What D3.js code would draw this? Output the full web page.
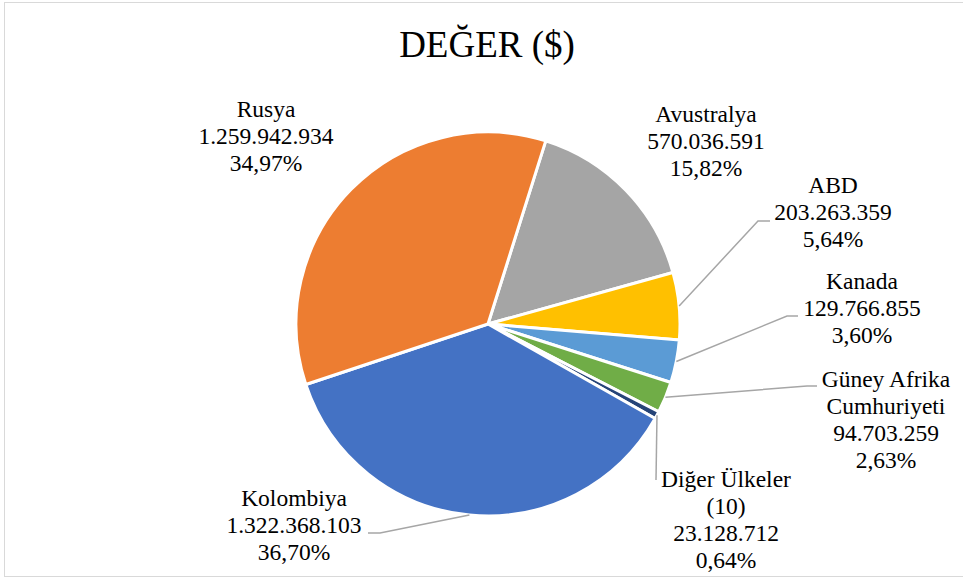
<!DOCTYPE html>
<html>
<head>
<meta charset="utf-8">
<script src="https://cdn.jsdelivr.net/npm/d3@7"></script>
<style>
  html, body { margin: 0; padding: 0; background: #fff; }
</style>
</head>
<body>
<div id="vis"></div>
<script>
// data, clockwise from the slice after Rusya
var countries = ["Avustralya", "ABD", "Kanada", "Güney Afrika Cumhuriyeti", "Diğer Ülkeler (10)", "Kolombiya", "Rusya"];
var values = [570036591, 203263359, 129766855, 94703259, 23128712, 1322368103, 1259942934];
var nameLines = [["Avustralya"], ["ABD"], ["Kanada"], ["Güney Afrika", "Cumhuriyeti"], ["Diğer Ülkeler", "(10)"], ["Kolombiya"], ["Rusya"]];
var colors = ["#A5A5A5", "#FFC000", "#5B9BD5", "#70AD47", "#264478", "#4472C4", "#ED7D31"];
var title = "DEĞER ($)";

// label layout: centre x, first baseline, leader elbow (null = no leader)
var labelPos = [
    {x: 706, y: 122, elbow: null},
    {x: 833, y: 193, elbow: [758, 221], end: 770},
    {x: 862, y: 289, elbow: [787, 316], end: 798},
    {x: 886, y: 387, elbow: [807, 386], end: 817},
    {x: 726, y: 487, elbow: [656, 480], end: 656},
    {x: 294, y: 506, elbow: [380, 533], end: 368},
    {x: 266, y: 117, elbow: null}
];

var svgW = 963, svgH = 578;
var cx = 488, cy = 324, r = 192;
var lineH = 27;
var serif = "'Liberation Serif'";

var svg = d3.select('#vis').append('svg').attr('width', svgW).attr('height', svgH);

// chart frame
svg.append('rect').attr('x', 4.5).attr('y', 2.5).attr('width', 970).attr('height', 574)
    .style('fill', 'none').style('stroke', '#d9d9d9').style('stroke-width', 1);

// title
svg.append('text').attr('x', 487).attr('y', 57).attr('text-anchor', 'middle')
    .style('font-family', serif)
    .style('font-size', '37px').style('fill', '#000').text(title);

var trLocale = d3.formatLocale({decimal: ",", thousands: ".", grouping: [3], currency: ["", "$"]});
var fmtNum = trLocale.format(",d");
var fmtPct = trLocale.format(".2f");
var total = d3.sum(values);

var startDeg = 17.5;
var pie = d3.pie().sort(null)
    .startAngle(startDeg * Math.PI / 180)
    .endAngle((startDeg + 360) * Math.PI / 180);
var arcs = pie(values);
var arc = d3.arc().innerRadius(0).outerRadius(r);

var g = svg.append('g').attr('transform', 'translate(' + cx + ',' + cy + ')');

// slices
g.selectAll('path.slice').data(arcs).enter().append('path')
    .attr('class', 'slice')
    .attr('d', arc)
    .style('fill', function(d, i){ return colors[i]; })
    .style('stroke', '#fff')
    .style('stroke-width', 3)
    .style('stroke-linejoin', 'round');

// leader lines: from the arc mid point on the rim to the elbow, then across to the label
arcs.forEach(function(d, i){
    var p = labelPos[i];
    if (!p.elbow) return;
    var mid = (d.startAngle + d.endAngle) / 2;
    var sx = cx + r * Math.sin(mid), sy = cy - r * Math.cos(mid);
    var pts = [[sx, sy], p.elbow, [p.end, p.elbow[1]]];
    svg.append('path').attr('d', d3.line()(pts))
        .style('fill', 'none').style('stroke', '#A6A6A6').style('stroke-width', 1.5);
});

// data labels
arcs.forEach(function(d, i){
    var p = labelPos[i];
    var lines = nameLines[i].concat([fmtNum(values[i]), fmtPct(values[i] / total * 100) + "%"]);
    var t = svg.append('text').attr('text-anchor', 'middle')
        .style('font-family', serif)
        .style('font-size', '23.5px').style('fill', '#000');
    lines.forEach(function(s, k){
        t.append('tspan').attr('x', p.x).attr('y', p.y + k * lineH).text(s);
    });
});
</script>
</body>
</html>
